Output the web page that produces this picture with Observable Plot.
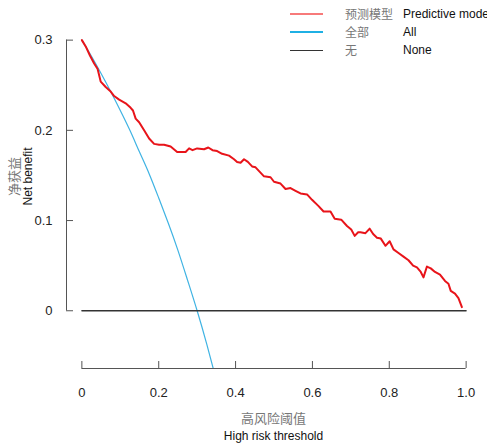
<!DOCTYPE html>
<html>
<head>
<meta charset="utf-8">
<script src="https://cdn.jsdelivr.net/npm/d3@7"></script>
<script src="https://cdn.jsdelivr.net/npm/@observablehq/plot@0.6"></script>
<style>
  html, body { margin: 0; padding: 0; background: #fff; }
  #wrap { position: relative; width: 487px; height: 443px; overflow: hidden; font-family: "Liberation Sans", Arial, sans-serif; }
  #wrap svg { position: absolute; left: 0; top: 0; }
  .abs { position: absolute; white-space: nowrap; }
  .zh { font-family: "Noto Sans CJK SC", sans-serif; color: #777; }
  .en { color: #111; }
</style>
</head>
<body>
<div id="wrap"></div>
<script>
// Decision curve data
const thresholdTicks = [0, 0.2, 0.4, 0.6, 0.8, 1.0];
const netBenefitTicks = [0, 0.1, 0.2, 0.3];
const xDomain = [-0.04, 1.04];
const yDomain = [-0.064, 0.314];

const modelT = [0, 0.010, 0.021, 0.032, 0.041, 0.049, 0.062, 0.075, 0.084, 0.097, 0.114, 0.127, 0.133, 0.140, 0.149, 0.162, 0.175, 0.188, 0.201, 0.214, 0.231, 0.248, 0.270, 0.279, 0.288, 0.300, 0.318, 0.329, 0.340, 0.352, 0.365, 0.383, 0.396, 0.404, 0.413, 0.422, 0.432, 0.443, 0.452, 0.463, 0.474, 0.491, 0.500, 0.517, 0.530, 0.543, 0.556, 0.569, 0.586, 0.599, 0.616, 0.629, 0.647, 0.658, 0.675, 0.690, 0.701, 0.710, 0.719, 0.725, 0.738, 0.749, 0.758, 0.768, 0.778, 0.790, 0.801, 0.811, 0.824, 0.837, 0.850, 0.862, 0.872, 0.882, 0.889, 0.898, 0.908, 0.919, 0.932, 0.945, 0.954, 0.960, 0.971, 0.980, 0.989];
const modelNB = [0.300, 0.293, 0.283, 0.274, 0.268, 0.254, 0.248, 0.243, 0.238, 0.234, 0.230, 0.225, 0.222, 0.213, 0.209, 0.200, 0.191, 0.185, 0.184, 0.184, 0.182, 0.176, 0.176, 0.180, 0.178, 0.180, 0.179, 0.181, 0.178, 0.177, 0.174, 0.172, 0.168, 0.165, 0.164, 0.168, 0.165, 0.160, 0.159, 0.154, 0.149, 0.148, 0.143, 0.141, 0.135, 0.136, 0.133, 0.130, 0.129, 0.123, 0.116, 0.110, 0.110, 0.102, 0.101, 0.094, 0.090, 0.083, 0.087, 0.087, 0.086, 0.091, 0.085, 0.081, 0.080, 0.072, 0.077, 0.068, 0.064, 0.060, 0.056, 0.050, 0.048, 0.043, 0.037, 0.049, 0.047, 0.043, 0.040, 0.033, 0.030, 0.022, 0.019, 0.014, 0.004];

const allT = [0, 0.025, 0.05, 0.075, 0.1, 0.125, 0.15, 0.175, 0.2, 0.225, 0.25, 0.275, 0.3, 0.325, 0.35];
const allNB = [0.300, 0.282, 0.263, 0.243, 0.222, 0.200, 0.176, 0.152, 0.125, 0.097, 0.067, 0.034, 0.000, -0.037, -0.077];

const noneT = [0, 1];
const noneNB = [0, 0];

const seriesNamesZh = ["预测模型", "全部", "无"];
const seriesNamesEn = ["Predictive model", "All", "None"];
const seriesColors = ["#e8141a", "#3fb3e3", "#333333"];

const toRows = (ts, vs) => ts.map((t, i) => ({t, v: vs[i]}));
const modelRows = toRows(modelT, modelNB);
const allRows = toRows(allT, allNB);
const noneRows = toRows(noneT, noneNB);

const chart = Plot.plot({
  width: 487,
  height: 443,
  marginLeft: 66,
  marginRight: 6,
  marginTop: 27,
  marginBottom: 75,
  style: {fontFamily: "'Liberation Sans', Arial, sans-serif", fontSize: "13px", color: "#222", background: "transparent"},
  x: {domain: xDomain},
  y: {domain: yDomain},
  marks: [
    Plot.line(allRows, {x: "t", y: "v", stroke: seriesColors[1], strokeWidth: 1.2, curve: "natural", clip: true}),
    Plot.line(noneRows, {x: "t", y: "v", stroke: seriesColors[2], strokeWidth: 1.3}),
    Plot.line(modelRows, {x: "t", y: "v", stroke: seriesColors[0], strokeWidth: 2, strokeLinejoin: "round"}),
    // y axis
    Plot.ruleX([xDomain[0]], {y1: netBenefitTicks[0], y2: netBenefitTicks[netBenefitTicks.length - 1], stroke: "#555"}),
    Plot.axisY({ticks: netBenefitTicks, tickSize: -7, tickPadding: 21, stroke: "#555", tickFormat: d => d === 0 ? "0" : d3.format(".1f")(d), label: null, fontSize: 13, fill: "#222"}),
    // x axis
    Plot.ruleY([yDomain[0]], {x1: thresholdTicks[0], x2: thresholdTicks[thresholdTicks.length - 1], stroke: "#555"}),
    Plot.axisX({ticks: thresholdTicks, tickSize: -7, tickPadding: 26, stroke: "#555", tickFormat: d => d === 0 ? "0" : d3.format(".1f")(d), label: null, fontSize: 13, fill: "#222"})
  ]
});

const wrap = document.getElementById("wrap");
wrap.appendChild(chart);

function addDiv(html, css, cls) {
  const d = document.createElement("div");
  d.className = "abs " + (cls || "");
  d.innerHTML = html;
  Object.assign(d.style, css);
  wrap.appendChild(d);
  return d;
}

// axis titles
addDiv("高风险阈值", {left: "0", width: "547px", top: "410px", textAlign: "center", fontSize: "13px", lineHeight: "15px"}, "zh");
addDiv("High risk threshold", {left: "0", width: "547px", top: "430px", textAlign: "center", fontSize: "12px", lineHeight: "13px"}, "en");
addDiv('<div class="zh" style="font-size:13px;line-height:15px">净获益</div><div class="en" style="font-size:12px;line-height:14px">Net benefit</div>',
  {left: "-80px", top: "162px", width: "200px", textAlign: "center", transform: "rotate(-90deg)"});

// legend
const legendRows = [14, 32, 50];
const sampleWidths = [1.2, 2.5, 1];
const sampleColors = ["#f77a7a", "#1fb0e4", "#333"];
seriesNamesZh.forEach((zh, i) => {
  const y = legendRows[i];
  addDiv("", {left: "290px", top: (y - sampleWidths[i] / 2) + "px", width: "33px", height: sampleWidths[i] + "px", background: sampleColors[i]});
  addDiv(zh, {left: "345px", top: (y - 8) + "px", fontSize: "12px", lineHeight: "16px"}, "zh");
  addDiv(seriesNamesEn[i], {left: "403px", top: (y - 8) + "px", fontSize: "12px", lineHeight: "16px"}, "en");
});
</script>
</body>
</html>
